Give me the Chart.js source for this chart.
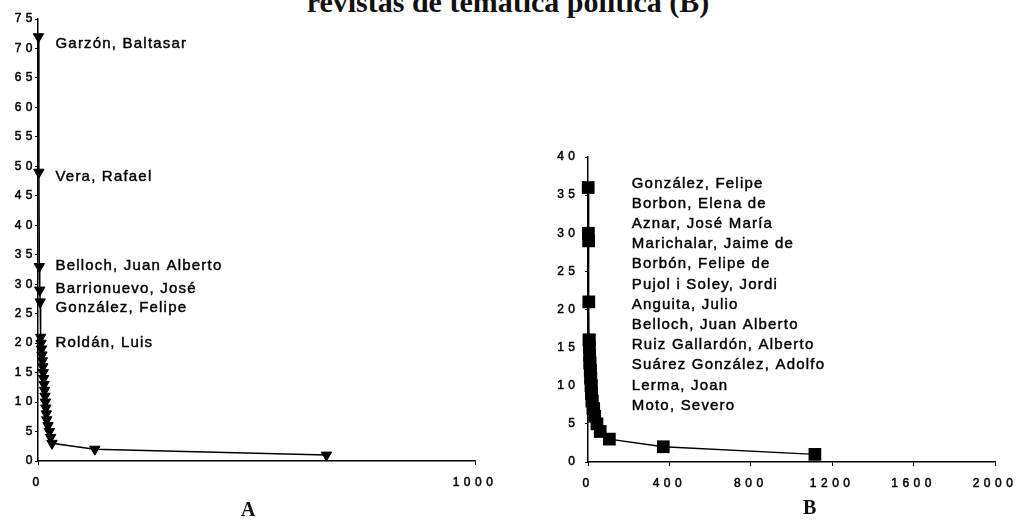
<!DOCTYPE html>
<html><head><meta charset="utf-8">
<script src="https://cdn.jsdelivr.net/npm/chart.js@4"></script>
<style>
html,body{margin:0;padding:0;background:#fff;width:1016px;height:523px;overflow:hidden;position:relative}
#title{position:absolute;left:0;width:1016px;top:-15px;line-height:30px;text-align:center;font:bold 30px "Liberation Serif","Times New Roman",serif;color:#111;white-space:nowrap}
.pl{position:absolute;line-height:20px;font:bold 20px "Liberation Serif","Times New Roman",serif;color:#111}
#ca{position:absolute;left:0;top:0}
#cb{position:absolute;left:520px;top:0}
#la{left:241px;top:498px}
#lb{left:803px;top:496px}
</style></head><body>
<div id="title">revistas de temática política (B)</div>
<canvas id="ca" width="500" height="523"></canvas>
<canvas id="cb" width="496" height="523"></canvas>
<div class="pl" id="la">A</div>
<div class="pl" id="lb">B</div>
<script>
// ---- Panel A data ----
const rankA = [1,2,3,4,5,6,7,8,9,10,11,12,13,14,15,16,17,18,19,20,23,26,29,32,130,660];
const freqA = [72,49,33,29,27,21,20,19,18,17,16,15,14,13,12,11,10,9,8,7,6,5,4,3,2,1];
const namesA = ['Garzón, Baltasar','Vera, Rafael','Belloch, Juan Alberto','Barrionuevo, José','González, Felipe','Roldán, Luis'];
const xTicksA = [0,1000];
const yTicksA = [0,5,10,15,20,25,30,35,40,45,50,55,60,65,70,75];

// ---- Panel B data ----
const rankB = [1,2,3,4,5,6,7,8,9,10,11,12,13,14,15,16,17,18,19,21,24,28,33,44,60,105,370,1115];
const freqB = [36,30,29,21,16,16,15,14,13,13,12,12,11,11,10,10,9,9,8,8,7,7,6,5,4,3,2,1];
const namesB = ['González, Felipe','Borbon, Elena de','Aznar, José María','Marichalar, Jaime de','Borbón, Felipe de','Pujol i Soley, Jordi','Anguita, Julio','Belloch, Juan Alberto','Ruiz Gallardón, Alberto','Suárez González, Adolfo','Lerma, Joan','Moto, Severo'];
const xTicksB = [0,400,800,1200,1600,2000];
const yTicksB = [0,5,10,15,20,25,30,35,40];

const FONT = '"Liberation Sans", Arial, Helvetica, sans-serif';
const INK = '#000';

const spacing = {
  id: 'spacing',
  beforeLayout(chart){ chart.ctx.letterSpacing = '4.5px'; },
  beforeDraw(chart){ chart.ctx.letterSpacing = '4.5px'; }
};

function pts(xs, ys){ return xs.map((v,i)=>({x:v, y:ys[i]})); }

function makeScales(xT, yT, xMax, yMax, yWidth, yPad){
  const tickFont = {color:INK, font:{family:FONT, size:12}, textStrokeColor:INK, textStrokeWidth:0.5, autoSkip:false, callback: v => String(v)};
  return {
    x: {
      type:'linear', min:0, max:xMax,
      afterBuildTicks: s => { s.ticks = xT.map(v=>({value:v})); },
      afterFit: s => { s.height = 30; s.paddingLeft = 0; s.paddingRight = 0; },
      grid:{drawOnChartArea:false, drawTicks:true, tickLength:4, color:INK, lineWidth:1},
      border:{display:true, color:INK, width:1.5},
      ticks:Object.assign({padding:10, maxRotation:0}, tickFont)
    },
    y: {
      type:'linear', min:0, max:yMax,
      afterBuildTicks: s => { s.ticks = yT.map(v=>({value:v})); },
      afterFit: s => { s.width = yWidth; s.paddingTop = 0; s.paddingBottom = 0; },
      grid:{drawOnChartArea:false, drawTicks:true, tickLength:3, color:INK, lineWidth:1},
      border:{display:true, color:INK, width:1.5},
      ticks:Object.assign({padding:yPad}, tickFont)
    }
  };
}

function drawName(ctx, text, x, y){
  ctx.fillText(text, x, y);
  ctx.strokeText(text, x, y);
}

function labelStyle(ctx){
  ctx.font = '15px ' + FONT;
  ctx.letterSpacing = '1.2px';
  ctx.fillStyle = INK;
  ctx.strokeStyle = INK;
  ctx.lineWidth = 0.45;
  ctx.textAlign = 'left';
  ctx.textBaseline = 'middle';
}

// small per-label vertical nudges (px) to mimic the original typesetting
const nudgeA = [7,5,-1,-1,6,6];

const labelsA = {
  id:'labelsA',
  afterDatasetsDraw(chart){
    const {ctx, scales:{x,y}} = chart;
    ctx.save();
    labelStyle(ctx);
    namesA.forEach((n,i)=>{
      drawName(ctx, n, x.getPixelForValue(40), y.getPixelForValue(freqA[i]) + nudgeA[i]);
    });
    ctx.restore();
  }
};

const labelsB = {
  id:'labelsB',
  afterDatasetsDraw(chart){
    const {ctx, scales:{x,y}} = chart;
    ctx.save();
    labelStyle(ctx);
    const x0 = x.getPixelForValue(215);
    const y0 = y.getPixelForValue(freqB[0]) - 4;
    namesB.forEach((n,i)=>{ drawName(ctx, n, x0, y0 + i*20.2); });
    ctx.restore();
  }
};

new Chart(document.getElementById('ca'), {
  type:'line',
  data:{ datasets:[{
    data: pts(rankA, freqA),
    borderColor:INK, borderWidth:1.5, backgroundColor:INK,
    pointStyle:'triangle', rotation:180, pointRadius:6, pointBorderWidth:1,
    pointBackgroundColor:INK, pointBorderColor:INK, tension:0, clip:false
  }]},
  options:{
    responsive:false, animation:false, events:[],
    layout:{padding:{left:0, top:19, right:25, bottom:32}},
    plugins:{legend:{display:false}, tooltip:{enabled:false}, title:{display:false}},
    scales: makeScales(xTicksA, yTicksA, 1000, 75, 38, -2)
  },
  plugins:[spacing, labelsA]
});

new Chart(document.getElementById('cb'), {
  type:'line',
  data:{ datasets:[{
    data: pts(rankB, freqB),
    borderColor:INK, borderWidth:1.5, backgroundColor:INK,
    pointStyle:'rect', pointRadius:9, pointBorderWidth:0,
    pointBackgroundColor:INK, pointBorderColor:INK, tension:0, clip:false
  }]},
  options:{
    responsive:false, animation:false, events:[],
    layout:{padding:{left:0, top:157, right:21, bottom:31}},
    plugins:{legend:{display:false}, tooltip:{enabled:false}, title:{display:false}},
    scales: makeScales(xTicksB, yTicksB, 2000, 40, 68, 5.5)
  },
  plugins:[spacing, labelsB]
});
</script>
</body></html>
